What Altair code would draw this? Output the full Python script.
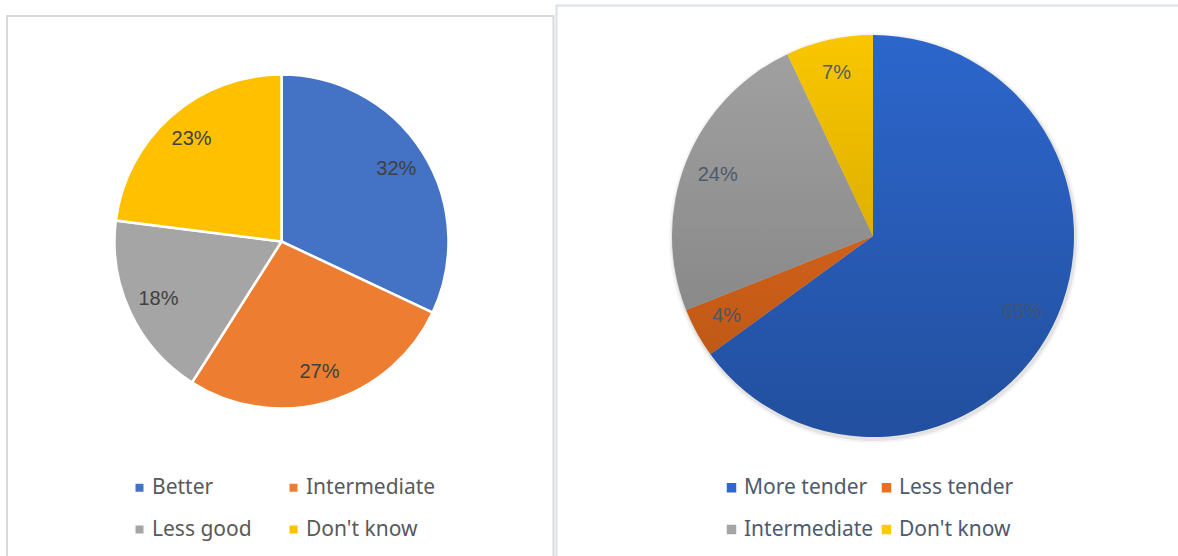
import altair as alt
import pandas as pd

# ---- data ----
left_categories = ["Better", "Intermediate", "Less good", "Don't know"]
left_values = [32, 27, 18, 23]
left_colors = ["#4472C4", "#ED7D31", "#A5A5A5", "#FFC000"]

right_categories = ["More tender", "Less tender", "Intermediate", "Don't know"]
right_values = [65, 4, 24, 7]
right_colors = ["#2D68D0", "#EE6E1C", "#A5A5A5", "#FFCA00"]

left_df = pd.DataFrame({"category": left_categories, "value": left_values,
                        "order": list(range(len(left_categories)))})
right_df = pd.DataFrame({"category": right_categories, "value": right_values,
                         "order": list(range(len(right_categories)))})
one = pd.DataFrame({"k": [0]})

W, H = 1178, 556
LCX, LCY, LR = 281.5, 241.5, 167
RCX, RCY, RR = 873, 236, 201

label_font = "'Liberation Sans Narrow', 'Arial Narrow', 'Liberation Sans', sans-serif"
legend_font = "Noto Sans"

# ---- panel frames ----
left_frame = alt.Chart(one).mark_rect(fill="white", stroke="#D9D9D9", strokeWidth=2).encode(
    x=alt.value(7), x2=alt.value(553.5), y=alt.value(16), y2=alt.value(H + 10))
right_frame = alt.Chart(one).mark_rect(fill="white", stroke="#DCE1E8", strokeWidth=2).encode(
    x=alt.value(556.5), x2=alt.value(W + 10), y=alt.value(5.5), y2=alt.value(H + 10))

# ---- left pie ----
left_arc = alt.Chart(left_df).mark_arc(outerRadius=LR, stroke="white", strokeWidth=2.5).encode(
    x=alt.value(LCX), y=alt.value(LCY),
    theta=alt.Theta("value:Q", stack=True),
    order=alt.Order("order:Q"),
    color=alt.Color(
        "category:N",
        scale=alt.Scale(domain=left_categories, range=left_colors),
        legend=alt.Legend(
            orient="none", legendX=129, legendY=477, columns=2, direction="horizontal",
            columnPadding=31, rowPadding=20, symbolType="square", symbolSize=64,
            symbolStrokeWidth=0, labelFontSize=21, labelFont=legend_font,
            labelColor="#595959", labelOffset=2, title=None, padding=0,
            labelExpr="datum.label == 'Less good' ? '\u2002Less good' : datum.label",
        ),
    ),
)
left_text = alt.Chart(left_df).transform_calculate(
    label="datum.value + '%'"
).mark_text(radius=136, fontSize=20, font=label_font, color="#404040").encode(
    x=alt.value(LCX), y=alt.value(LCY),
    theta=alt.Theta("value:Q", stack=True),
    order=alt.Order("order:Q"),
    text=alt.Text("label:N"),
)

# ---- right pie ----
shadow1 = alt.Chart(one).mark_arc(theta=0, theta2=6.2832, outerRadius=RR + 4,
                                  fill="#000000", opacity=0.04).encode(
    x=alt.value(RCX + 1), y=alt.value(RCY + 2))
shadow2 = alt.Chart(one).mark_arc(theta=0, theta2=6.2832, outerRadius=RR + 2,
                                  fill="#000000", opacity=0.07).encode(
    x=alt.value(RCX + 1), y=alt.value(RCY + 2))

right_arc = alt.Chart(right_df).mark_arc(outerRadius=RR).encode(
    x=alt.value(RCX), y=alt.value(RCY),
    theta=alt.Theta("value:Q", stack=True),
    order=alt.Order("order:Q"),
    color=alt.Color(
        "category:N",
        scale=alt.Scale(domain=right_categories, range=right_colors),
        legend=alt.Legend(
            orient="none", legendX=721, legendY=477, columns=2, direction="horizontal",
            columnPadding=2, rowPadding=20, symbolType="square", symbolSize=90,
            symbolStrokeWidth=0, labelFontSize=21, labelFont=legend_font,
            labelColor="#4E5A6E", labelOffset=2, title=None, padding=0,
        ),
    ),
)
overlay = alt.Chart(one).mark_arc(
    theta=0, theta2=6.2832, outerRadius=RR,
    fill=alt.Gradient(
        gradient="linear", x1=0, y1=0, x2=0, y2=1,
        stops=[alt.GradientStop(color="rgba(0,0,0,0.02)", offset=0),
               alt.GradientStop(color="rgba(0,0,0,0.24)", offset=1)],
    ),
).encode(x=alt.value(RCX), y=alt.value(RCY))

right_text = alt.Chart(right_df).transform_calculate(
    label="datum.value + '%'"
).mark_text(radius=167, fontSize=20, font=label_font, color="#44546A", opacity=0.9).encode(
    x=alt.value(RCX), y=alt.value(RCY),
    theta=alt.Theta("value:Q", stack=True),
    order=alt.Order("order:Q"),
    text=alt.Text("label:N"),
)

chart = alt.layer(
    left_frame, right_frame,
    left_arc, left_text,
    shadow1, shadow2, right_arc, overlay, right_text,
).resolve_scale(
    color="independent", theta="independent"
).properties(
    width=W, height=H, padding=0, autosize=alt.AutoSizeParams(type="none"),
    background="white",
).configure_view(stroke=None)

chart.save("out.html", embed_options={"renderer": "svg", "actions": False})
